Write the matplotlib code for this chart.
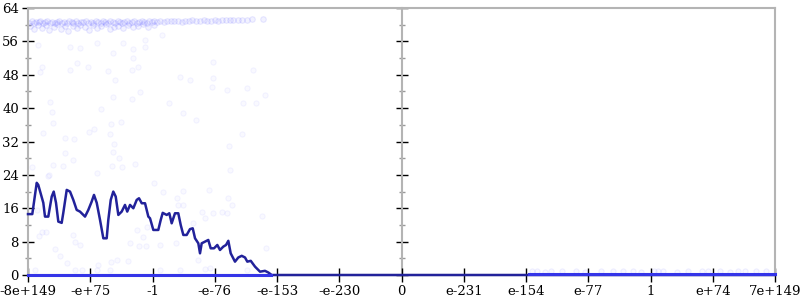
import matplotlib
matplotlib.use("Agg")
import matplotlib.pyplot as plt
from matplotlib.ticker import MultipleLocator

# x positions are in tick-index units (0 = -8e+149 ... 12 = 7e+149)
tick_labels = ["-8e+149", "-e+75", "-1", "-e-76", "-e-153", "-e-230", "0",
               "e-231", "e-154", "e-77", "1", "e+74", "7e+149"]

curve_x = [0.000, 0.069, 0.140, 0.165, 0.246, 0.273, 0.326, 0.381, 0.413, 0.450,
           0.487, 0.541, 0.567, 0.622, 0.675, 0.728, 0.782, 0.835, 0.916, 0.969,
           1.023, 1.060, 1.104, 1.157, 1.210, 1.264, 1.290, 1.329, 1.370, 1.409,
           1.451, 1.505, 1.558, 1.594, 1.639, 1.692, 1.746, 1.783, 1.827, 1.880,
           1.933, 1.960, 2.013, 2.093, 2.132, 2.164, 2.228, 2.270, 2.308, 2.361,
           2.414, 2.453, 2.495, 2.549, 2.602, 2.646, 2.683, 2.736, 2.763, 2.790,
           2.843, 2.896, 2.935, 2.988, 3.041, 3.084, 3.137, 3.181, 3.218, 3.256,
           3.325, 3.378, 3.433, 3.486, 3.523, 3.578, 3.647, 3.727, 3.807, 3.860,
           3.915, 12.0]
curve_y = [14.6, 14.6, 22.1, 21.6, 17.3, 14.0, 14.0, 18.8, 20.0, 17.3,
           12.8, 12.5, 14.9, 20.4, 20.0, 18.0, 15.6, 15.2, 14.0, 15.6,
           17.6, 19.2, 17.3, 13.2, 8.8, 8.8, 13.2, 18.0, 20.0, 18.8,
           14.4, 15.2, 16.8, 15.2, 16.8, 16.0, 18.0, 18.4, 17.2, 17.2,
           14.0, 13.6, 10.8, 10.8, 13.2, 14.9, 14.4, 14.8, 12.4, 14.8,
           14.8, 12.0, 9.6, 9.6, 11.0, 11.2, 8.8, 7.6, 5.2, 7.6,
           8.0, 8.4, 6.4, 6.4, 7.2, 6.0, 6.8, 7.2, 8.2, 5.2,
           3.2, 4.2, 4.6, 4.2, 3.2, 3.4, 2.0, 0.8, 1.0, 0.6,
           0.0, 0.0]

base_left_x = [0.0, 3.9]
base_left_y = [0.0, 0.0]
base_right_x = [8.05, 12.0]
base_right_y = [0.2, 0.2]

# scatter: dense band near 60
band_x = [0.02, 0.06, 0.09, 0.13, 0.17, 0.20, 0.24, 0.28, 0.31, 0.35, 0.39, 0.43,
          0.46, 0.50, 0.55, 0.58, 0.62, 0.66, 0.70, 0.73, 0.77, 0.81, 0.85, 0.89,
          0.93, 0.97, 1.01, 1.05, 1.09, 1.12, 1.17, 1.20, 1.24, 1.28, 1.32, 1.36,
          1.40, 1.44, 1.47, 1.51, 1.55, 1.59, 1.63, 1.67, 1.71, 1.75, 1.79, 1.83,
          1.87, 1.91, 1.95, 1.99, 2.03, 2.07,
          0.03, 0.10, 0.16, 0.22, 0.29, 0.34, 0.41, 0.47, 0.53, 0.60, 0.65, 0.72,
          0.79, 0.84, 0.91, 0.98, 1.04, 1.11, 1.18, 1.25, 1.31, 1.38, 1.45, 1.52,
          1.60, 1.68, 1.76, 1.85, 1.93, 2.02,
          2.12, 2.18, 2.24, 2.29, 2.35, 2.41, 2.47, 2.52, 2.58, 2.64, 2.70, 2.76,
          2.82, 2.88, 2.94, 3.00, 3.06, 3.12, 3.18, 3.24, 3.30, 3.37, 3.44, 3.52,
          3.60, 3.78]
band_y = [60.5, 60.8, 60.4, 60.7, 60.6, 60.9, 60.3, 60.6, 60.8, 60.5, 60.7, 60.4,
          60.6, 60.9, 60.5, 60.7, 60.3, 60.8, 60.6, 60.5, 60.9, 60.4, 60.7, 60.6,
          60.8, 60.3, 60.7, 60.5, 60.9, 60.6, 60.4, 60.8, 60.7, 60.5, 60.9, 60.6,
          60.3, 60.8, 60.7, 60.5, 60.6, 60.9, 60.4, 60.7, 60.8, 60.5, 60.6, 60.9,
          60.7, 60.4, 60.8, 60.6, 60.9, 60.7,
          59.6, 58.9, 59.9, 59.3, 60.0, 58.7, 59.5, 60.1, 59.0, 59.7, 58.6, 59.8,
          59.2, 60.0, 59.4, 58.8, 59.9, 59.1, 59.6, 60.1, 58.9, 59.5, 59.8, 59.2,
          60.0, 59.4, 59.7, 60.1, 59.5, 59.9,
          60.9, 60.7, 61.0, 60.8, 60.9, 61.0, 60.7, 61.0, 60.9, 61.1, 60.8, 61.0,
          61.1, 60.9, 61.0, 61.1, 61.0, 61.1, 61.2, 61.1, 61.2, 61.1, 61.2, 61.2,
          61.3, 61.3]

# scatter: sparse points
sparse_x = [0.16, 0.67, 0.84, 1.11, 1.37, 1.53, 1.69, 1.88, 0.79, 0.96, 1.69, 0.22,
            0.19, 0.67, 1.29, 1.67, 1.77, 2.97, 3.61, 1.40, 2.44, 2.60, 2.97, 2.96,
            3.20, 3.52, 3.81, 1.80, 1.37, 1.67, 0.35, 0.39, 0.40, 0.24, 0.59, 0.74,
            0.59, 0.72, 0.40, 0.56, 0.32, 0.06, 1.17, 0.98, 1.06, 1.32, 1.33, 1.49,
            2.27, 2.49, 2.70, 1.38, 1.37, 1.46, 1.35, 1.51, 1.72, 1.11, 3.24, 3.23,
            3.44, 3.45, 3.66, 0.14, 0.34, 0.22, 0.29, 0.18, 0.72, 0.43, 0.51, 0.63,
            0.76, 0.84, 1.12, 1.33, 1.43, 1.61, 1.64, 1.75, 1.78, 1.90, 2.02, 2.17,
            2.49, 2.39, 2.41, 2.49, 2.91, 3.21, 3.28, 2.80, 2.97, 3.12, 3.20, 2.84,
            2.65, 3.76, 1.85, 1.91, 2.12, 2.38, 2.73, 3.82, 1.88, 2.15,
            0.11, 0.76, 0.87, 1.11, 1.32, 2.12, 2.44, 2.84, 2.92, 3.52]
sparse_y = [55.2, 54.7, 54.4, 55.6, 53.2, 55.6, 54.2, 54.7, 50.8, 49.9, 52.0, 49.9,
            48.7, 49.2, 48.9, 49.2, 49.9, 51.1, 49.2, 46.8, 47.5, 46.8, 47.2, 45.1,
            44.4, 44.8, 43.2, 43.9, 42.7, 42.2, 41.5, 39.1, 36.5, 34.1, 32.9, 32.6,
            29.3, 27.6, 26.4, 26.1, 23.7, 25.9, 39.8, 34.3, 35.0, 33.8, 36.2, 36.7,
            41.2, 38.8, 37.2, 31.4, 29.5, 28.1, 26.1, 25.9, 26.6, 24.5, 25.2, 30.9,
            33.8, 41.2, 41.2, 15.6, 24.0, 10.3, 10.3, 9.4, 9.6, 6.2, 4.6, 2.9,
            7.9, 7.2, 2.4, 3.1, 3.6, 3.4, 7.7, 10.8, 7.0, 7.0, 22.1, 19.9,
            20.1, 18.5, 16.8, 16.8, 20.4, 18.5, 16.8, 15.1, 14.9, 15.1, 14.9, 13.7,
            12.5, 14.1, 9.1, 11.5, 7.2, 7.7, 3.6, 6.5, 56.4, 57.6,
            1.2, 1.2, 1.2, 1.2, 1.2, 1.2, 1.2, 1.4, 1.7, 1.2]

# scatter: points along the right baseline
low_x = [8.10, 8.18, 8.31, 8.40, 8.58, 8.80, 8.95, 9.21, 9.40, 9.55, 9.72, 9.85,
         10.05, 10.12, 10.20, 10.42, 10.60, 10.83, 10.93, 11.12, 11.27, 11.40,
         11.52, 11.70, 11.85]
low_y = [0.9, 1.0, 0.8, 0.9, 1.0, 0.9, 0.8, 1.0, 0.9, 0.9, 1.0, 0.8,
         0.9, 1.0, 0.9, 0.8, 1.0, 0.9, 0.9, 1.0, 0.8, 0.9, 1.0, 0.9, 0.9]

plt.rcParams["font.family"] = "DejaVu Serif"
plt.rcParams["font.size"] = 9.5

fig = plt.figure(figsize=(8, 3), dpi=100)
ax = fig.add_axes([0.035, 0.0833, 0.9338, 0.89])

ax.scatter(band_x, band_y, s=16, facecolors=(0.3, 0.3, 1.0, 0.07),
           edgecolors=(0.3, 0.3, 1.0, 0.12), linewidths=0.8, zorder=2)
ax.scatter(sparse_x, sparse_y, s=14, facecolors=(0.3, 0.3, 1.0, 0.03),
           edgecolors=(0.3, 0.3, 1.0, 0.06), linewidths=0.8, zorder=2)
ax.scatter(low_x, low_y, s=14, facecolors=(0.3, 0.3, 1.0, 0.04),
           edgecolors=(0.3, 0.3, 1.0, 0.08), linewidths=0.8, zorder=2)

ax.plot(curve_x, curve_y, color="#22229a", lw=1.8, zorder=3, clip_on=False)
ax.plot(base_left_x, base_left_y, color="#3535e8", lw=2.2, zorder=4, clip_on=False)
ax.plot(base_right_x, base_right_y, color="#3535e8", lw=2.2, zorder=4, clip_on=False)

ax.set_xlim(0, 12)
ax.set_ylim(0, 64)
ax.set_xticks(range(len(tick_labels)))
ax.set_xticklabels(tick_labels)
ax.yaxis.set_major_locator(MultipleLocator(8))
ax.yaxis.set_minor_locator(MultipleLocator(4))

for s in ["left", "top", "right", "bottom"]:
    ax.spines[s].set_color("#b4b4b4")
    ax.spines[s].set_linewidth(1.5)

ax.tick_params(axis="x", direction="inout", length=10, width=1, color="black",
               pad=2)
ax.tick_params(axis="y", which="major", direction="inout", length=9, width=1,
               color="black", left=True, right=True, pad=2)
ax.tick_params(axis="y", which="minor", direction="inout", length=5, width=1,
               color="#999999", left=True, right=True)

# centre axis at 0
ax2 = ax.twinx()
ax2.set_ylim(0, 64)
ax2.spines["left"].set_position(("data", 6))
ax2.spines["left"].set_color("#b4b4b4")
ax2.spines["left"].set_linewidth(1.5)
for s in ["top", "right", "bottom"]:
    ax2.spines[s].set_visible(False)
ax2.yaxis.set_ticks_position("left")
ax2.yaxis.set_major_locator(MultipleLocator(8))
ax2.yaxis.set_minor_locator(MultipleLocator(4))
ax2.tick_params(axis="y", which="major", direction="inout", length=9, width=1,
                color="black", labelleft=False, labelright=False)
ax2.tick_params(axis="y", which="minor", direction="inout", length=5, width=1,
                color="#999999")
ax2.set_zorder(ax.get_zorder() - 1)
ax.patch.set_visible(False)

fig.savefig("out.png", dpi=100)
